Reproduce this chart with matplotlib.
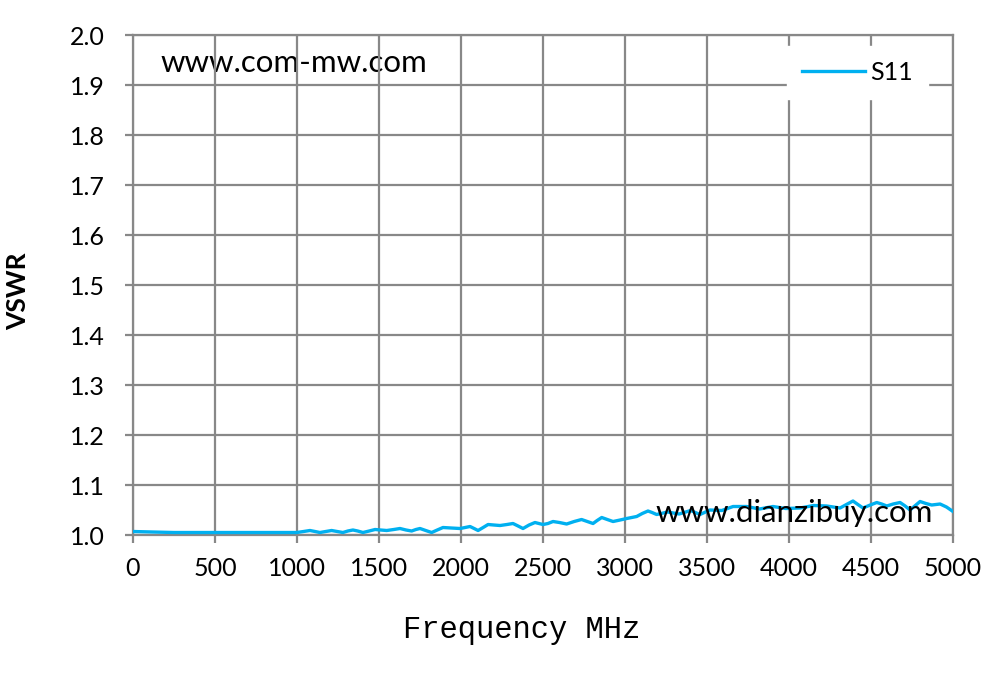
import numpy as np
import matplotlib.pyplot as plt

# S11 驻波比数据
freq = [0, 120, 250, 370, 488, 620, 750, 870, 998, 1040, 1079, 1110, 1140, 1175,
        1211, 1245, 1280, 1310, 1341, 1370, 1402, 1440, 1476, 1510, 1547, 1590,
        1628, 1665, 1699, 1725, 1750, 1785, 1821, 1855, 1890, 1940, 1994, 2025,
        2055, 2080, 2104, 2135, 2165, 2200, 2238, 2280, 2317, 2348, 2378, 2415,
        2451, 2475, 2500, 2530, 2561, 2600, 2644, 2690, 2735, 2770, 2805, 2830,
        2858, 2892, 2927, 2970, 3010, 3071, 3105, 3140, 3165, 3193, 3260, 3330,
        3400, 3457, 3518, 3590, 3659, 3742, 3820, 3902, 3980, 4067, 4150, 4230,
        4270, 4311, 4350, 4390, 4420, 4451, 4495, 4535, 4565, 4596, 4635, 4677,
        4708, 4738, 4770, 4799, 4835, 4870, 4921, 4960, 5000]
vswr = [1.007, 1.006, 1.005, 1.005, 1.005, 1.005, 1.005, 1.005, 1.005, 1.007,
        1.009, 1.007, 1.005, 1.007, 1.009, 1.007, 1.005, 1.008, 1.010, 1.008,
        1.005, 1.008, 1.011, 1.010, 1.009, 1.011, 1.013, 1.010, 1.008, 1.011,
        1.013, 1.009, 1.005, 1.010, 1.015, 1.014, 1.013, 1.015, 1.017, 1.013,
        1.009, 1.015, 1.021, 1.020, 1.019, 1.021, 1.023, 1.018, 1.013, 1.020,
        1.025, 1.023, 1.021, 1.023, 1.027, 1.025, 1.022, 1.027, 1.031, 1.027,
        1.023, 1.029, 1.035, 1.031, 1.027, 1.030, 1.033, 1.037, 1.043, 1.048,
        1.045, 1.041, 1.046, 1.042, 1.049, 1.041, 1.050, 1.049, 1.057, 1.057,
        1.052, 1.057, 1.053, 1.054, 1.059, 1.058, 1.056, 1.054, 1.061, 1.068,
        1.061, 1.054, 1.060, 1.065, 1.062, 1.058, 1.062, 1.065, 1.058, 1.050,
        1.059, 1.067, 1.063, 1.060, 1.062, 1.056, 1.047]

xticks = np.arange(0, 5001, 500)
yticks = np.round(np.arange(1.0, 2.01, 0.1), 1)

plt.rcParams['font.family'] = ['Lato', 'DejaVu Sans']
fig = plt.figure(figsize=(9.97, 6.75), dpi=100)
ax = fig.add_axes([0.1334, 0.2074, 0.8225, 0.7407])

ax.plot(freq, vswr, color='#00B0F0', lw=2.4, label='S11', zorder=3)

ax.set_xlim(0, 5000)
ax.set_ylim(1.0, 2.0)
ax.set_xticks(xticks)
ax.set_yticks(yticks)
ax.set_yticklabels(['%.1f' % v for v in yticks])
ax.grid(True, color='#888888', lw=1.6)
for s in ax.spines.values():
    s.set_color('#888888')
    s.set_linewidth(1.6)
ax.tick_params(axis='both', colors='#888888', width=1.6, length=6,
               labelcolor='black', labelsize=18)
ax.tick_params(axis='y', pad=14)
ax.tick_params(axis='x', pad=10)

# 轴标题
fig.text(0.018, 1 - 291 / 675, 'VSWR', rotation=90, fontsize=19,
         fontweight='bold', ha='center', va='center')
fig.text(522 / 997, 1 - 630 / 675, 'Frequency MHz', fontsize=22,
         family=['Liberation Mono'], ha='center', va='center')

ax.text(0.033, 0.945, 'www.com-mw.com', transform=ax.transAxes, fontsize=22.5,
        va='center', ha='left', zorder=1)
ax.text(0.637, 0.044, 'www.dianzibuy.com', transform=ax.transAxes, fontsize=22.5,
        va='center', ha='left', zorder=4)

leg = ax.legend(loc='center', bbox_to_anchor=(0.8835, 0.925), fontsize=18,
                frameon=True, fancybox=False, edgecolor='white', framealpha=1,
                handlelength=2.5, handletextpad=0.2, borderpad=0.6,
                borderaxespad=0)
leg.set_zorder(5)

fig.savefig('out.png', dpi=100)
